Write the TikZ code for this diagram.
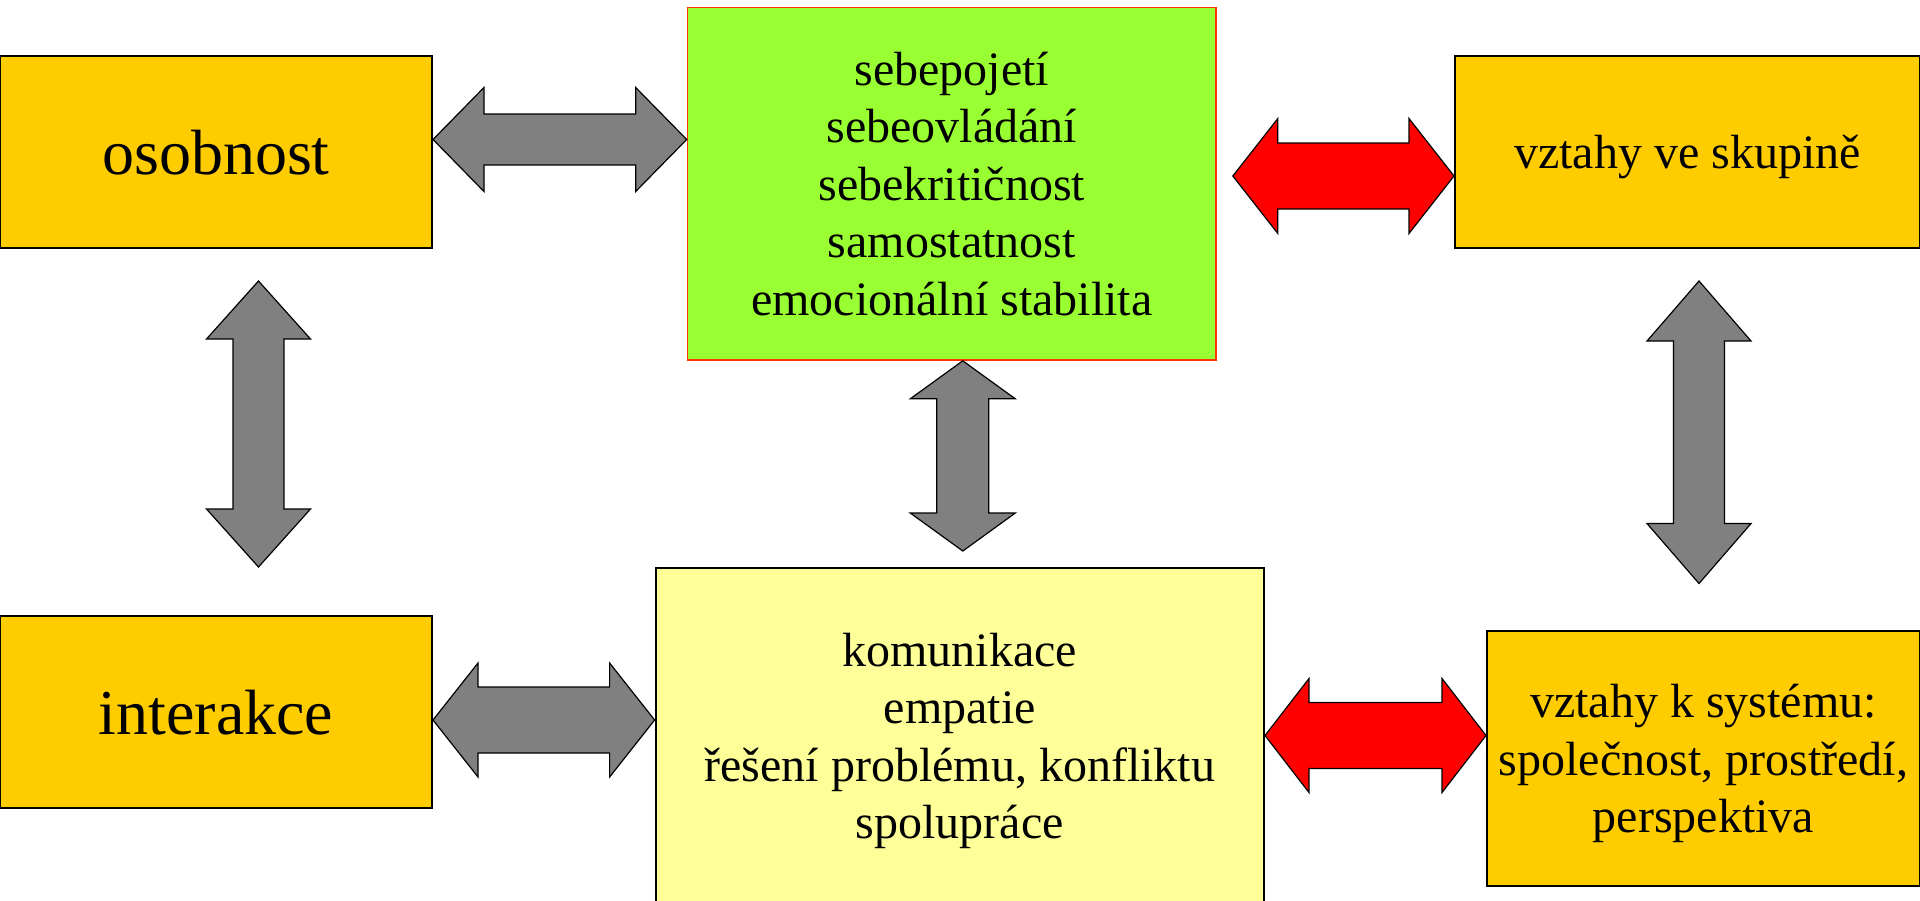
\documentclass[tikz,border=0pt]{standalone}
\usepackage{fontspec}
\setmainfont{Liberation Serif}
\usetikzlibrary{calc}
\definecolor{orangefill}{HTML}{FFCC00}
\definecolor{greenfill}{HTML}{99FF33}
\definecolor{greenborder}{HTML}{FF3300}
\definecolor{yellowfill}{HTML}{FFFF99}
\definecolor{grayfill}{HTML}{808080}
\definecolor{redfill}{HTML}{FF0000}
\tikzset{
  box/.style={draw=black, line width=1.5pt, inner sep=2pt, align=center,
    font=\fontsize{36}{43.1}\selectfont},
  obox/.style={box, fill=orangefill},
  gbox/.style={box, fill=greenfill, draw=greenborder, line width=1.2pt},
  ybox/.style={box, fill=yellowfill},
  bigtext/.style={font=\fontsize{48}{57.6}\selectfont},
  grayarr/.style={draw=black, line width=0.9pt, fill=grayfill},
  redarr/.style={draw=black, line width=0.9pt, fill=redfill},
}
% #1 style, #2 from, #3 to, #4 head length, #5 head half width, #6 shaft half width
\newcommand\bkarrow[6]{%
  \coordinate (ba1) at ($(#2)!#4!(#3)$);
  \coordinate (ba2) at ($(#3)!#4!(#2)$);
  \draw[#1] (#2) -- ($(ba1)!#5!90:(#3)$) -- ($(ba1)!#6!90:(#3)$)
    -- ($(ba2)!#6!-90:(#2)$) -- ($(ba2)!#5!-90:(#2)$) -- (#3)
    -- ($(ba2)!#5!90:(#2)$) -- ($(ba2)!#6!90:(#2)$)
    -- ($(ba1)!#6!-90:(#3)$) -- ($(ba1)!#5!-90:(#3)$) -- cycle;
}
\begin{document}
\begin{tikzpicture}[x=0.75pt,y=-0.75pt]
\useasboundingbox (0,0) rectangle (1920,900);

\node[obox, bigtext, minimum width=324pt, minimum height=144pt, text depth=0pt] (osob) at (216,152) {osobnost};
\node[gbox, minimum width=396.4pt, minimum height=264.4pt] (green) at (951.75,183.75)
  {sebepojetí\\sebeovládání\\sebekritičnost\\samostatnost\\emocionální stabilita};
\node[obox, minimum width=348.75pt, minimum height=144pt, text depth=0pt] (skup) at (1687.5,152) {vztahy ve skupině};
\node[obox, bigtext, minimum width=324pt, minimum height=144pt, text depth=0pt] (inter) at (216,712) {interakce};
\node[ybox, minimum width=456.3pt, minimum height=260.25pt] (yellow) at (959.8,741)
  {komunikace\\empatie\\řešení problému, konfliktu\\spolupráce};
\node[obox, minimum width=324.75pt, minimum height=191.6pt, text depth=0pt] (system) at (1703.5,758.75)
  {vztahy k systému:\\společnost, prostředí,\\perspektiva};

% connector end points
\coordinate (a1l) at ($(osob.east)+(0,-12.5)$);
\coordinate (a1r) at (green.west |- a1l);
\coordinate (a2r) at ($(skup.west)+(0,24)$);
\coordinate (a2l) at ($(green.east |- a2r)+(16,0)$);
\coordinate (a3t) at ($(osob.south)+(42.5,32)$);
\coordinate (a3b) at ($(inter.north)+(42.5,-48)$);
\coordinate (a4t) at ($(green.south)+(11,0)$);
\coordinate (a4b) at ($(yellow.north)+(3,-15.5)$);
\coordinate (a5t) at ($(skup.south)+(11.5,32)$);
\coordinate (a5b) at ($(system.north)+(-4.5,-46.5)$);
\coordinate (a6l) at ($(inter.east)+(0,8)$);
\coordinate (a6r) at (yellow.west |- a6l);
\coordinate (a7l) at ($(yellow.east)+(0,-5.5)$);
\coordinate (a7r) at (system.west |- a7l);

\bkarrow{grayarr}{a1l}{a1r}{38.25pt}{39pt}{19.1pt}
\bkarrow{redarr}{a2l}{a2r}{33.75pt}{43.1pt}{24.75pt}
\bkarrow{grayarr}{a3t}{a3b}{43.5pt}{39pt}{19.1pt}
\bkarrow{grayarr}{a4t}{a4b}{28.5pt}{39.4pt}{19.5pt}
\bkarrow{grayarr}{a5t}{a5b}{45pt}{39pt}{19.1pt}
\bkarrow{grayarr}{a6l}{a6r}{33.75pt}{42.75pt}{24.75pt}
\bkarrow{redarr}{a7l}{a7r}{33pt}{42.75pt}{24.75pt}
\end{tikzpicture}
\end{document}
